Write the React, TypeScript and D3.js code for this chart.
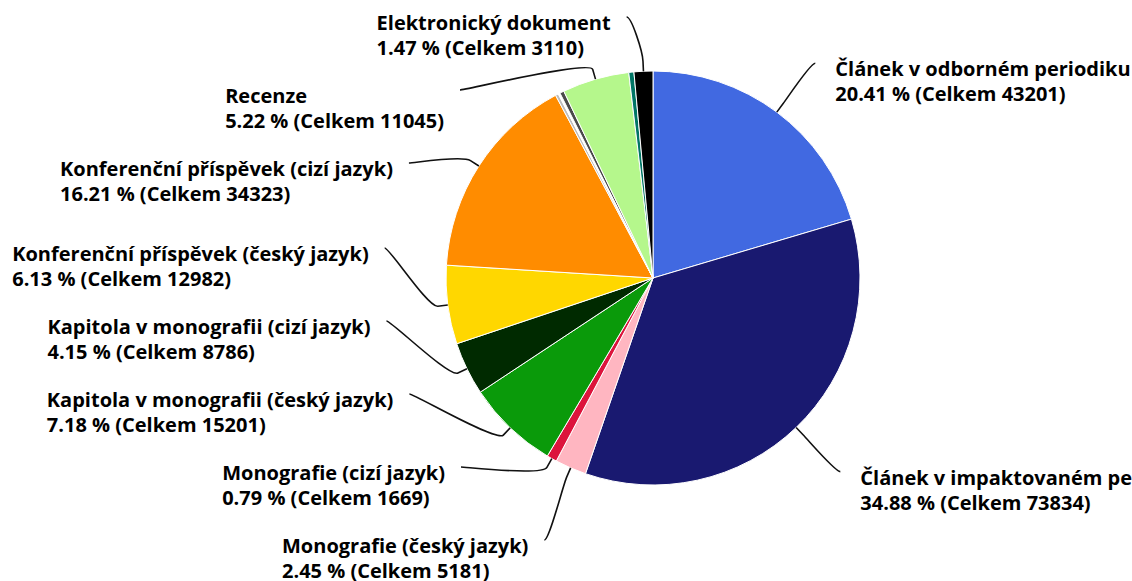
import React from 'react';
import * as d3 from 'd3';

const categories = [
  'Článek v odborném periodiku',
  'Článek v impaktovaném periodiku',
  'Monografie (český jazyk)',
  'Monografie (cizí jazyk)',
  'Kapitola v monografii (český jazyk)',
  'Kapitola v monografii (cizí jazyk)',
  'Konferenční příspěvek (český jazyk)',
  'Konferenční příspěvek (cizí jazyk)',
  '',
  '',
  '',
  'Recenze',
  '',
  'Elektronický dokument',
];
const values = [43201, 73834, 5181, 1669, 15201, 8786, 12982, 34323, 500, 300, 700, 11045, 850, 3110];
const colors = [
  '#4169e1', '#191970', '#ffb6c1', '#dc143c', '#0a9a0a', '#002a00', '#ffd700', '#ff8c00',
  '#bdbdbd', '#ffffff', '#4a4a4a', '#b5f78c', '#007565', '#000000',
];

const W = 1132;
const H = 581;
const CX = 653;
const CY = 278;
const R = 207;
const LABEL_DIST = 61;
const PAD = 2;
const BOX = 73;
const Y_MIN = 17;
const Y_MAX = 540;
const FONT_SIZE = 20;
const FONT_FAMILY = '"Open Sans", "DejaVu Sans", sans-serif';

let ctx: CanvasRenderingContext2D | null = null;
function measure(text: string): number {
  if (!ctx) {
    const c = document.createElement('canvas');
    ctx = c.getContext('2d');
  }
  if (!ctx) return text.length * FONT_SIZE * 0.5;
  ctx.font = `bold ${FONT_SIZE}px ${FONT_FAMILY}`;
  return ctx.measureText(text).width;
}

type Lab = { i: number; mid: number; target: number; y: number; left: boolean };

function distribute(items: Lab[]) {
  const sorted = [...items].sort((a, b) => a.target - b.target);
  let boxes = sorted.map((l) => ({ items: [l], first: l.target }));
  const place = (b: { items: Lab[]; first: number }) => {
    const n = b.items.length;
    const mean = d3.mean(b.items, (l) => l.target) as number;
    let first = mean - ((n - 1) * BOX) / 2;
    first = Math.max(Y_MIN, Math.min(Y_MAX - (n - 1) * BOX, first));
    b.first = first;
  };
  boxes.forEach(place);
  let merged = true;
  while (merged) {
    merged = false;
    for (let k = 0; k < boxes.length - 1; k++) {
      const a = boxes[k];
      const b = boxes[k + 1];
      if (b.first < a.first + a.items.length * BOX) {
        const nb = { items: [...a.items, ...b.items], first: 0 };
        place(nb);
        boxes = [...boxes.slice(0, k), nb, ...boxes.slice(k + 2)];
        merged = true;
        break;
      }
    }
  }
  boxes.forEach((b) => b.items.forEach((l, j) => (l.y = b.first + j * BOX)));
}

export default function App() {
  const total = d3.sum(values);
  const pie = d3
    .pie<number>()
    .sort(null)
    .value((d) => d)
    .startAngle(0)
    .endAngle(2 * Math.PI);
  const arcs = pie(values);
  const arcGen = d3.arc<d3.PieArcDatum<number>>().innerRadius(0).outerRadius(R);
  const LR = R + LABEL_DIST;

  const labs: Lab[] = arcs
    .map((a, i) => {
      const mid = (a.startAngle + a.endAngle) / 2;
      return { i, mid, target: CY - LR * Math.cos(mid), y: 0, left: mid > Math.PI };
    })
    .filter((l) => categories[l.i] !== '');
  distribute(labs.filter((l) => l.left));
  distribute(labs.filter((l) => !l.left));

  const getX = (y: number, left: boolean) => {
    const dy = y - CY;
    const off = Math.sqrt(Math.max(0, LR * LR - dy * dy)) + PAD;
    return CX + (left ? -off : off);
  };

  return (
    <svg
      width={W}
      height={H}
      style={{ position: 'absolute', left: 0, top: 0, display: 'block', background: '#fff' }}
    >
      <g>
        {arcs.map((a, i) => (
          <path
            key={i}
            d={arcGen(a) as string}
            transform={`translate(${CX},${CY})`}
            fill={colors[i]}
            stroke="#ffffff"
            strokeWidth={1}
            strokeLinejoin="round"
          />
        ))}
      </g>
      <g>
        {labs.map((l) => {
          const extreme = Math.abs(l.y - CY) > LR - 12;
          const useY = extreme ? l.target : l.y;
          const ax = getX(useY, l.left) + (extreme && l.y < CY ? -12 : 0);
          const ay = l.y;
          const s = Math.sin(l.mid);
          const c = -Math.cos(l.mid);
          const tx = CX + R * s;
          const ty = CY + R * c;
          const bx = CX + (R + 10) * s;
          const by = CY + (R + 10) * c;
          const c2x = CX + (R + 20) * s;
          const c2y = CY + (R + 20) * c;
          const c1x = ax + (l.left ? 5 : -5);
          const path = `M${ax},${ay}C${c1x},${ay} ${c2x},${c2y} ${bx},${by}L${tx},${ty}`;
          const line1 = categories[l.i];
          const line2 = `${((values[l.i] / total) * 100).toFixed(2)} % (Celkem ${values[l.i]})`;
          const wMax = Math.max(measure(line1), measure(line2));
          const xLeft = l.left ? ax - 16 - wMax : ax + 20;
          return (
            <g key={l.i}>
              <path d={path} fill="none" stroke="#111" strokeWidth={1.6} />
              <text
                fontFamily={FONT_FAMILY}
                fontWeight="bold"
                fontSize={FONT_SIZE}
                fill="#000"
              >
                <tspan x={xLeft} y={ay + 13}>{line1}</tspan>
                <tspan x={xLeft} y={ay + 38}>{line2}</tspan>
              </text>
            </g>
          );
        })}
      </g>
    </svg>
  );
}
